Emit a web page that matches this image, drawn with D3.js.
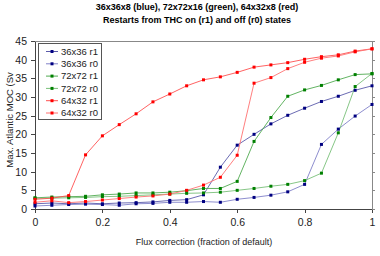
<!DOCTYPE html>
<html><head><meta charset="utf-8">
<script src="https://cdn.jsdelivr.net/npm/d3@7"></script>
<style>
html,body{margin:0;padding:0;background:#fff;}
svg{display:block;font-family:"Liberation Sans",Arial,sans-serif;}
</style></head>
<body><svg id="c" width="380" height="256"></svg>
<script>
const xs = [0,0.05,0.1,0.15,0.2,0.25,0.3,0.35,0.4,0.45,0.5,0.55,0.6,0.65,0.7,0.75,0.8,0.85,0.9,0.95,1];
const blueR1 = [1.4,1.6,1.4,1.6,1.4,1.6,1.7,1.9,2.3,2.5,3.8,11.2,17.1,20.0,22.8,25.1,27.0,28.8,30.2,31.8,33.0];
const blueR0 = [0.8,1.0,1.2,1.3,1.2,1.0,1.4,1.5,1.8,1.8,2.0,1.8,2.6,3.1,3.7,4.6,6.6,17.3,21.4,24.9,28.0];
const greenR1 = [3.0,3.2,3.3,3.4,3.8,4.0,4.3,4.3,4.5,4.9,5.5,5.5,7.4,18.1,24.5,30.2,31.9,33.1,34.6,36.0,36.2];
const greenR0 = [2.9,2.9,3.0,3.1,3.3,3.4,3.6,3.8,4.0,4.2,4.3,4.5,5.0,5.5,6.1,6.6,7.6,9.6,20.4,32.8,36.3];
const redR1 = [2.6,2.9,3.6,14.5,19.6,22.6,25.5,28.7,30.8,33.0,34.6,35.4,36.6,38.0,38.6,39.2,40.1,40.8,41.3,42.3,42.9];
const redR0 = [1.8,2.2,1.7,2.0,2.4,2.8,3.2,3.5,4.0,5.0,6.4,8.5,14.4,33.7,35.2,37.6,39.3,40.4,41.0,42.1,42.9];
const seriesNames = ["36x36 r1","36x36 r0","72x72 r1","72x72 r0","64x32 r1","64x32 r0"];
const xTicks = [0,0.2,0.4,0.6,0.8,1];
const yTicks = [0,5,10,15,20,25,30,35,40,45];
const titleLines = ["36x36x8 (blue), 72x72x16 (green), 64x32x8 (red)","Restarts from THC on (r1) and off (r0) states"];
const xTitle = "Flux correction (fraction of default)";
const yTitle = "Max. Atlantic MOC (Sv";

const series = [
  {name:seriesNames[0], v:blueR1, mc:"#000080", lc:"#5a5aaa"},
  {name:seriesNames[1], v:blueR0, mc:"#000080", lc:"#8080c8"},
  {name:seriesNames[2], v:greenR1, mc:"#008000", lc:"#50aa50"},
  {name:seriesNames[3], v:greenR0, mc:"#008000", lc:"#78c078"},
  {name:seriesNames[4], v:redR1, mc:"#ff0000", lc:"#ff5050"},
  {name:seriesNames[5], v:redR0, mc:"#ff0000", lc:"#ff7070"}
];

const svg = d3.select("#c");
const L=35, R=372, T=41, B=209;
const x = d3.scaleLinear().domain([0,1]).range([L,R]);
const y = d3.scaleLinear().domain([0,45]).range([B,T]);

svg.selectAll("text.title").data(titleLines).enter().append("text")
  .attr("x",197).attr("y",(d,i)=>10+i*12.5).attr("text-anchor","middle")
  .attr("font-size","9px").attr("font-weight","bold").attr("fill","#000").text(d=>d);

svg.append("rect").attr("x",L).attr("y",T).attr("width",R-L).attr("height",B-T)
  .attr("fill","none").attr("stroke","#888").attr("stroke-width",1).attr("shape-rendering","crispEdges");

const gy = svg.append("g").attr("transform",`translate(${L},0)`)
  .call(d3.axisLeft(y).tickValues(yTicks).tickSize(4).tickSizeOuter(0).tickPadding(4).tickFormat(d3.format("d")));
const gx = svg.append("g").attr("transform",`translate(0,${B})`)
  .call(d3.axisBottom(x).tickValues(xTicks).tickSize(4).tickSizeOuter(0).tickPadding(6).tickFormat(d=>d===0||d===1?String(d):d3.format(".1f")(d)));
const gr = svg.append("g").attr("transform",`translate(${R},0)`)
  .call(d3.axisRight(y).tickValues(yTicks).tickSize(3).tickSizeOuter(0).tickFormat(""));
gr.select(".domain").attr("stroke","#888");
gr.selectAll(".tick line").attr("stroke","#888");
[gy,gx].forEach(g=>{
  g.selectAll("text").attr("font-size","10.5px").attr("fill","#222").attr("font-family","Liberation Sans, Arial, sans-serif");
  g.select(".domain").attr("stroke","#444");
  g.selectAll(".tick line").attr("stroke","#444");
});
svg.selectAll(".domain, .tick line").attr("shape-rendering","crispEdges");

svg.append("text").attr("x",204).attr("y",245).attr("text-anchor","middle")
  .attr("font-size","9px").attr("fill","#222").text(xTitle);
svg.append("text").attr("transform","translate(13,120) rotate(-90)").attr("text-anchor","middle")
  .attr("font-size","9.5px").attr("fill","#222").text(yTitle);

const line = d3.line().x((d,i)=>x(xs[i])).y(d=>y(d));
series.forEach(s=>{
  svg.append("path").attr("d",line(s.v)).attr("fill","none").attr("stroke",s.lc).attr("stroke-width",0.9);
});
series.forEach(s=>{
  svg.append("g").selectAll("rect").data(s.v).enter().append("rect")
    .attr("x",(d,i)=>x(xs[i])-1.5).attr("y",d=>y(d)-1.5).attr("width",3).attr("height",3)
    .attr("fill",s.mc);
});

const lg = svg.append("g");
lg.append("rect").attr("x",38).attr("y",43).attr("width",63).attr("height",76)
  .attr("fill","#fff").attr("stroke","#555").attr("stroke-width",1).attr("shape-rendering","crispEdges");
series.forEach((s,i)=>{
  const yy = 51.5 + i*12.3;
  lg.append("line").attr("x1",46).attr("x2",58).attr("y1",yy).attr("y2",yy).attr("stroke",s.lc);
  lg.append("rect").attr("x",50.5).attr("y",yy-1.5).attr("width",3).attr("height",3).attr("fill",s.mc);
  lg.append("text").attr("x",61).attr("y",yy+3.3).attr("font-size","9.5px").attr("fill","#222").text(s.name);
});
</script></body></html>
